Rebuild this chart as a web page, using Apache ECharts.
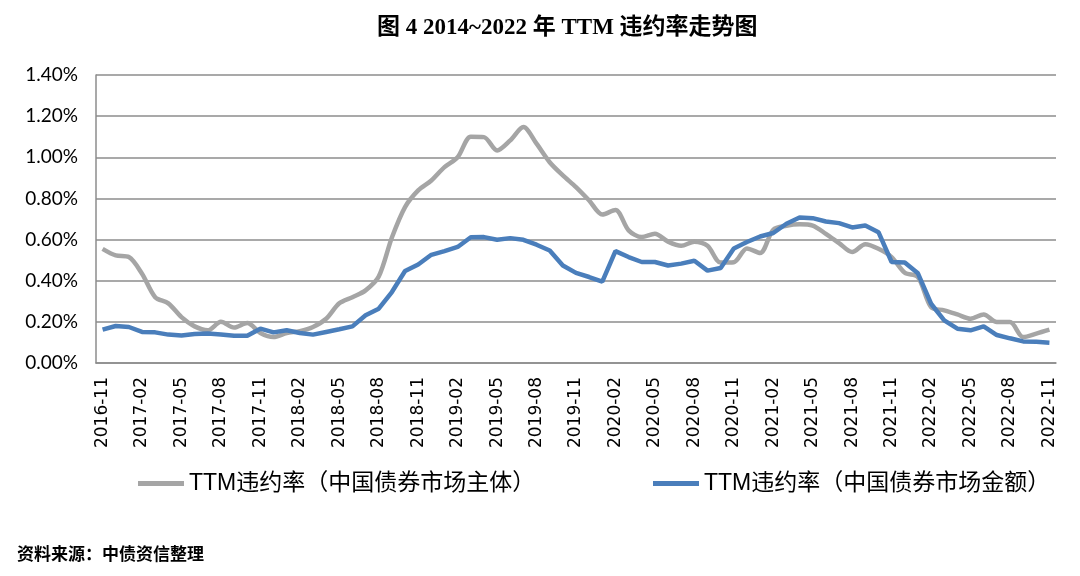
<!DOCTYPE html>
<html><head><meta charset="utf-8">
<script src="https://cdn.jsdelivr.net/npm/echarts@6/dist/echarts.min.js"></script>
<style>html,body{margin:0;padding:0;background:#fff}#c{width:1080px;height:576px}</style>
</head><body><div id="c"></div>
<script>
const titleText = '图 4 2014~2022 年 TTM 违约率走势图';
const sourceText = '资料来源：中债资信整理';
const seriesNames = ['TTM违约率（中国债券市场主体）', 'TTM违约率（中国债券市场金额）'];
const yTicks = [0, 0.2, 0.4, 0.6, 0.8, 1.0, 1.2, 1.4];
// months 2016-11 .. 2022-11
const categories = [];
for (let y = 2016, m = 11; y < 2022 || (y === 2022 && m <= 11); ) {
  categories.push(y + '-' + (m < 10 ? '0' + m : m));
  m++; if (m > 12) { m = 1; y++; }
}
const issuerRate = [0.555,0.523,0.515,0.434,0.32,0.29,0.223,0.178,0.159,0.20,0.172,0.194,0.146,0.126,0.146,0.155,0.175,0.215,0.29,0.32,0.353,0.42,0.61,0.758,0.839,0.887,0.952,1.0,1.10,1.098,1.033,1.082,1.147,1.066,0.976,0.912,0.855,0.79,0.722,0.744,0.645,0.612,0.628,0.59,0.57,0.59,0.57,0.488,0.49,0.557,0.535,0.648,0.667,0.674,0.668,0.628,0.583,0.539,0.577,0.555,0.515,0.439,0.418,0.272,0.256,0.236,0.215,0.236,0.199,0.199,0.126,0.143,0.162];
const amountRate = [0.162,0.18,0.175,0.151,0.149,0.138,0.134,0.141,0.143,0.139,0.133,0.133,0.167,0.149,0.159,0.146,0.138,0.151,0.164,0.178,0.232,0.264,0.345,0.447,0.479,0.526,0.544,0.564,0.611,0.612,0.599,0.607,0.599,0.575,0.547,0.474,0.438,0.418,0.396,0.544,0.515,0.491,0.491,0.474,0.483,0.497,0.449,0.462,0.557,0.588,0.615,0.632,0.677,0.707,0.704,0.688,0.68,0.659,0.668,0.636,0.491,0.488,0.436,0.288,0.207,0.167,0.159,0.178,0.136,0.12,0.105,0.103,0.099];

const chart = echarts.init(document.getElementById('c'));
const legendText = { fontSize: 23, color: '#000', fontFamily: 'Liberation Sans, Noto Sans CJK SC' };
chart.setOption({
  animation: false,
  backgroundColor: '#fff',
  title: [
    { text: titleText, left: 372, top: 12,
      textStyle: { fontSize: 23, fontWeight: 'bold', color: '#000', fontFamily: 'Liberation Serif, Noto Sans CJK SC' } },
    { text: sourceText, left: 12, top: 540,
      textStyle: { fontSize: 17, fontWeight: 'bold', color: '#000', fontFamily: 'Noto Sans CJK SC' } }
  ],
  legend: [
    { data: [seriesNames[0]], left: 133, top: 467, icon: 'rect', itemWidth: 46, itemHeight: 5, itemGap: 6, textStyle: legendText },
    { data: [seriesNames[1]], left: 648, top: 467, icon: 'rect', itemWidth: 46, itemHeight: 5, itemGap: 6, textStyle: legendText }
  ],
  grid: { left: 96, right: 24, top: 75, bottom: 213, containLabel: false },
  xAxis: {
    type: 'category', data: categories, boundaryGap: true,
    axisLine: { lineStyle: { color: '#8c8c8c', width: 1.5 } },
    axisTick: { show: false },
    axisLabel: { interval: 2, rotate: 90, margin: 14, fontSize: 17, color: '#000', fontFamily: 'DejaVu Sans' },
    splitLine: { show: false }
  },
  yAxis: {
    type: 'value', min: 0, max: 1.4, interval: 0.2,
    axisLine: { show: true, lineStyle: { color: '#8c8c8c', width: 1.5 } },
    axisTick: { show: false },
    axisLabel: { margin: 18, fontSize: 19, color: '#000', fontFamily: 'Lato',
      formatter: v => yTicks.includes(Math.round(v * 10) / 10) ? v.toFixed(2) + '%' : '' },
    splitLine: { lineStyle: { color: '#8c8c8c', width: 1.5 } }
  },
  series: [
    { name: seriesNames[0], type: 'line', data: issuerRate, symbol: 'none', smooth: 0.3,
      lineStyle: { color: '#a5a5a5', width: 4.5 }, itemStyle: { color: '#a5a5a5' } },
    { name: seriesNames[1], type: 'line', data: amountRate, symbol: 'none', smooth: false,
      lineStyle: { color: '#4a7ebb', width: 4.5 }, itemStyle: { color: '#4a7ebb' } }
  ]
});
</script></body></html>
